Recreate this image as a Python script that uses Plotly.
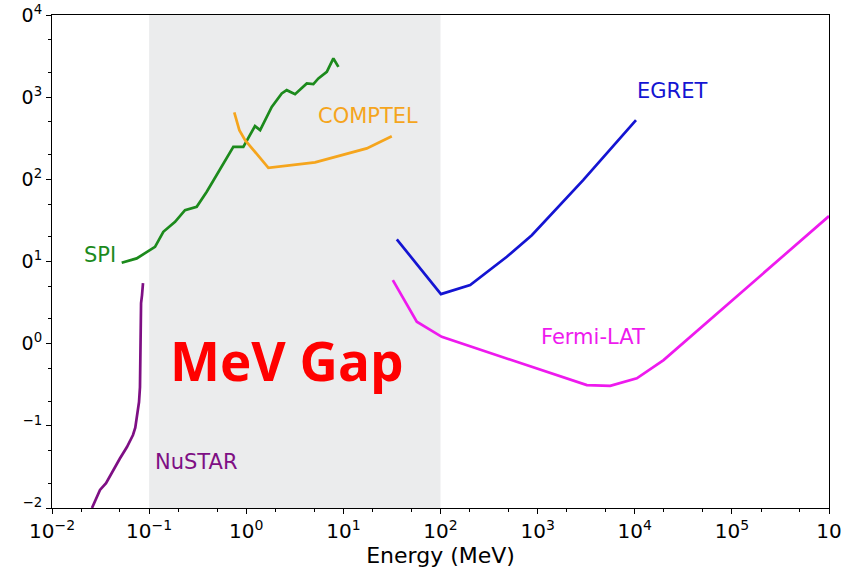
import numpy as np
import plotly.graph_objects as go

# ---- data ----
nustar_E = [0.0258, 0.0312, 0.036, 0.0425, 0.05, 0.0591, 0.0682, 0.072, 0.075, 0.0787, 0.0805, 0.0826, 0.0845, 0.0865]
nustar_S = [0.0100, 0.0166, 0.020, 0.0290, 0.040, 0.0552, 0.0773, 0.095, 0.128, 0.195, 0.296, 3.12, 3.9, 5.46]

spi_E = [0.0522, 0.0745, 0.115, 0.140, 0.185, 0.234, 0.309, 0.392, 0.736, 0.933, 1.23, 1.39, 1.83, 2.32, 2.61, 3.18, 4.20, 4.91, 5.53, 6.75, 7.89, 8.89]
spi_S = [9.64, 10.9, 15.1, 23.0, 30.4, 42.2, 46.3, 70.5, 248, 248, 444, 397, 762, 1109, 1217, 1087, 1468, 1439, 1688, 2032, 2958, 2339]

comptel_E = [0.753, 0.849, 0.973, 1.69, 5.11, 17.4, 31.5]
comptel_S = [651, 397, 300, 138, 161, 238, 335]

egret_E = [35.5, 101, 202, 482, 871, 2943, 10300]
egret_S = [18.6, 4.01, 5.16, 11.4, 20.9, 97.8, 525]

fermi_E = [32.3, 57.0, 103, 3213, 5585, 10500, 19800, 1.0e6]
fermi_S = [5.94, 1.85, 1.21, 0.313, 0.307, 0.378, 0.631, 35.7]

gap_range = [0.1, 100]

x_ticks = [1e-2, 1e-1, 1e0, 1e1, 1e2, 1e3, 1e4, 1e5, 1e6]
x_ticktext = ["10<sup>−2</sup>", "10<sup>−1</sup>", "10<sup>0</sup>", "10<sup>1</sup>", "10<sup>2</sup>",
              "10<sup>3</sup>", "10<sup>4</sup>", "10<sup>5</sup>", "10"]
y_ticks = [1e-2, 1e-1, 1e0, 1e1, 1e2, 1e3, 1e4]
y_ticktext = ["<sup>−2</sup>", "<sup>−1</sup>", "0<sup>0</sup>", "0<sup>1</sup>", "0<sup>2</sup>", "0<sup>3</sup>", "0<sup>4</sup>"]

FONT = "DejaVu Sans"

fig = go.Figure()

series = [
    ("NuSTAR", nustar_E, nustar_S, "#7e0f84"),
    ("SPI", spi_E, spi_S, "#1c8a1c"),
    ("COMPTEL", comptel_E, comptel_S, "#f5a51d"),
    ("EGRET", egret_E, egret_S, "#1414d2"),
    ("Fermi-LAT", fermi_E, fermi_S, "#ee1aee"),
]
for name, xe, ys, col in series:
    fig.add_trace(go.Scatter(x=xe, y=ys, mode="lines", name=name,
                             line=dict(color=col, width=2.7), showlegend=False))

fig.add_vrect(x0=gap_range[0], x1=gap_range[1], fillcolor="#ebeced", line_width=0, layer="below")

labels = [
    ("SPI", 0.0312, 11.97, "#1c8a1c"),
    ("COMPTEL", 17.9, 588, "#f5a51d"),
    ("EGRET", 2.43e4, 1183, "#1414d2"),
    ("Fermi-LAT", 3730, 1.20, "#ee1aee"),
    ("NuSTAR", 0.304, 0.0363, "#7e0f84"),
]
for txt, xv, yv, col in labels:
    fig.add_annotation(x=np.log10(xv), y=np.log10(yv), text=txt, showarrow=False,
                       font=dict(family=FONT, size=21, color=col))

fig.add_annotation(x=np.log10(2.57), y=np.log10(0.626), text="<b>MeV Gap</b>", showarrow=False,
                   font=dict(family="Open Sans", size=53, color="#ff0000"))

fig.update_xaxes(type="log", range=[-2, 6], tickvals=x_ticks, ticktext=x_ticktext,
                 showline=True, linecolor="black", linewidth=1.2, mirror=True,
                 ticks="outside", ticklen=5, tickcolor="black", showgrid=False, zeroline=False,
                 minor=dict(ticks="outside", ticklen=3, tickcolor="black", showgrid=False),
                 tickfont=dict(family=FONT, size=20, color="black"), automargin=False,
                 title=dict(text="Energy (MeV)", font=dict(family=FONT, size=22, color="black"), standoff=4))
fig.update_yaxes(type="log", range=[-2, 4], tickvals=y_ticks, ticktext=y_ticktext,
                 showline=True, linecolor="black", linewidth=1.2, mirror=True,
                 ticks="outside", ticklen=5, tickcolor="black", showgrid=False, zeroline=False,
                 minor=dict(ticks="outside", ticklen=3, tickcolor="black", showgrid=False),
                 tickfont=dict(family=FONT, size=19, color="black"), automargin=False)

fig.update_layout(width=846, height=568, margin=dict(l=52, r=17, t=15, b=60),
                  plot_bgcolor="white", paper_bgcolor="white")

fig.write_html("out.html")
